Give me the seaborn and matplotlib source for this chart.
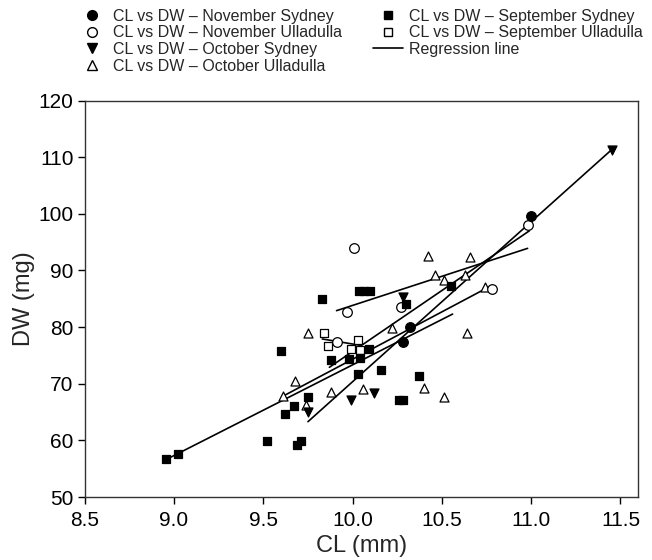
import matplotlib
matplotlib.use("Agg")
import matplotlib.pyplot as plt
from matplotlib.lines import Line2D
import seaborn as sns

# ---- data ----
nov_syd_cl = [10.28, 10.32, 11.00]
nov_syd_dw = [77.3, 80.1, 99.6]

nov_ull_cl = [9.91, 9.97, 10.01, 10.27, 10.78, 10.98]
nov_ull_dw = [77.4, 82.7, 93.9, 83.5, 86.7, 98.1]

oct_syd_cl = [9.75, 9.99, 10.12, 10.28, 11.45]
oct_syd_dw = [65.0, 67.1, 68.3, 85.3, 111.3]

oct_ull_cl = [9.61, 9.68, 9.74, 9.75, 9.88, 10.06, 10.22, 10.40, 10.42, 10.46,
              10.51, 10.51, 10.63, 10.64, 10.66, 10.74]
oct_ull_dw = [67.8, 70.4, 66.3, 79.0, 68.5, 69.0, 79.8, 69.2, 92.5, 89.2,
              88.3, 67.7, 89.2, 78.9, 92.3, 87.0]

sep_syd_cl = [8.955, 9.02, 9.52, 9.60, 9.62, 9.67, 9.69, 9.71, 9.75, 9.83,
              9.88, 9.98, 10.03, 10.04, 10.09, 10.035, 10.065, 10.095, 10.16,
              10.26, 10.285, 10.30, 10.37, 10.55]
sep_syd_dw = [56.7, 57.6, 59.8, 75.7, 64.7, 66.1, 59.1, 59.9, 67.6, 84.9,
              74.2, 74.3, 71.7, 74.5, 76.1, 86.4, 86.4, 86.4, 72.4,
              67.1, 67.1, 84.1, 71.3, 87.3]

sep_ull_cl = [9.84, 9.86, 9.99, 10.03, 10.04]
sep_ull_dw = [79.0, 76.6, 76.1, 77.7, 76.0]

# regression line end points (CL, DW)
nov_syd_line_cl = [9.87, 10.99]
nov_syd_line_dw = [72.9, 97.0]
nov_ull_line_cl = [9.91, 10.98]
nov_ull_line_dw = [82.9, 93.9]
oct_syd_line_cl = [9.75, 11.45]
oct_syd_line_dw = [63.3, 111.3]
oct_ull_line_cl = [9.61, 10.74]
oct_ull_line_dw = [67.8, 86.7]
sep_syd_line_cl = [8.955, 10.56]
sep_syd_line_dw = [56.6, 82.3]
sep_ull_line_cl = [9.83, 10.04]
sep_ull_line_dw = [77.9, 76.8]

labels = ["CL vs DW \u2013 November Sydney", "CL vs DW \u2013 November Ulladulla",
          "CL vs DW \u2013 October Sydney", "CL vs DW \u2013 October Ulladulla",
          "CL vs DW \u2013 September Sydney", "CL vs DW \u2013 September Ulladulla",
          "Regression line"]
x_ticks = [8.5, 9.0, 9.5, 10.0, 10.5, 11.0, 11.5]
y_ticks = [50, 60, 70, 80, 90, 100, 110, 120]

# ---- style ----
sns.set_style("ticks")
plt.rcParams["font.family"] = ["Liberation Sans", "DejaVu Sans"]

fig = plt.figure(figsize=(6.52, 5.6), dpi=100)
ax = fig.add_axes([0.130, 0.1125, 0.849, 0.708])

lines = [(sep_syd_line_cl, sep_syd_line_dw), (oct_ull_line_cl, oct_ull_line_dw),
         (oct_syd_line_cl, oct_syd_line_dw), (nov_ull_line_cl, nov_ull_line_dw),
         (sep_ull_line_cl, sep_ull_line_dw), (nov_syd_line_cl, nov_syd_line_dw)]
for lx, ly in lines:
    sns.lineplot(x=lx, y=ly, ax=ax, color="black", lw=1.2, zorder=2)

series = [
    (oct_ull_cl, oct_ull_dw, "^", "white", 42),
    (sep_ull_cl, sep_ull_dw, "s", "white", 36),
    (nov_ull_cl, nov_ull_dw, "o", "white", 48),
    (sep_syd_cl, sep_syd_dw, "s", "black", 36),
    (oct_syd_cl, oct_syd_dw, "v", "black", 42),
    (nov_syd_cl, nov_syd_dw, "o", "black", 48),
]
for cx, cy, m, fc, s in series:
    sns.scatterplot(x=cx, y=cy, ax=ax, marker=m, s=s, facecolor=fc,
                    edgecolor="black", linewidth=0.9, zorder=3)

ax.set_xlim(8.5, 11.6)
ax.set_ylim(50, 120)
ax.set_xticks(x_ticks)
ax.set_xticklabels([f"{v:.1f}" for v in x_ticks])
ax.set_yticks(y_ticks)
ax.tick_params(axis="both", labelsize=15, length=5, width=1, direction="out",
               color="black", labelcolor="black", pad=3)
ax.tick_params(axis="x", pad=5)
for sp in ax.spines.values():
    sp.set_linewidth(1.0)
    sp.set_color("#333333")
ax.set_xlabel("CL (mm)", fontsize=17, labelpad=4)
ax.set_ylabel("DW (mg)", fontsize=17, labelpad=2.5)

handles = [
    Line2D([], [], ls="none", marker="o", mfc="black", mec="black", ms=7),
    Line2D([], [], ls="none", marker="o", mfc="white", mec="black", ms=7),
    Line2D([], [], ls="none", marker="v", mfc="black", mec="black", ms=7),
    Line2D([], [], ls="none", marker="^", mfc="white", mec="black", ms=7),
    Line2D([], [], ls="none", marker="s", mfc="black", mec="black", ms=6),
    Line2D([], [], ls="none", marker="s", mfc="white", mec="black", ms=6),
    Line2D([], [], color="black", lw=1.2),
]
fig.legend(handles, labels, ncol=2, loc="upper left",
           bbox_to_anchor=(0.104, 1.0), frameon=False, fontsize=11.5,
           handlelength=1.9, handletextpad=0.35, columnspacing=1.95,
           labelspacing=0.1, borderaxespad=0.15)

fig.savefig("out.png", dpi=100)
